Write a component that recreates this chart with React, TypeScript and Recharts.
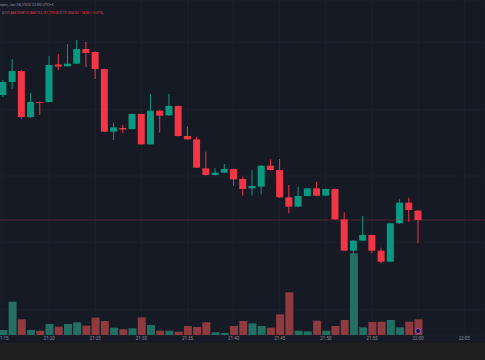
import React from 'react';
import {
  ComposedChart,
  Bar,
  XAxis,
  YAxis,
  CartesianGrid,
  ReferenceLine,
  ReferenceDot,
  Cell,
} from 'recharts';

// minutes after 21:15 (1-minute candles)
const minutes = [
  0, 1, 2, 3, 4, 5, 6, 7, 8, 9, 10, 11, 12, 13, 14, 15, 16, 17, 18, 19, 20, 21, 22,
  23, 24, 25, 26, 27, 28, 29, 30, 31, 32, 33, 34, 35, 36, 37, 38, 39, 40, 41, 42, 43,
  44, 45,
];
const opens = [
  102021.5, 102041, 102057.5, 101988.5, 102011, 102011, 102067.25, 102064.5, 102068.5,
  102090.5, 102086, 102060.5, 101966.5, 101972, 101970.5, 101993, 101947.5, 101998,
  101991, 102005, 101960, 101955, 101911.5, 101901.5, 101905, 101910.5, 101895.5,
  101881.5, 101884, 101915.5, 101909, 101868, 101854, 101870, 101881.5, 101870.5,
  101880.5, 101835, 101788, 101803, 101811.5, 101788, 101771.5, 101829, 101860, 101848,
];
const highs = [
  102044, 102075.5, 102059, 102024.5, 102011.75, 102080, 102083, 102098, 102104, 102101,
  102086.75, 102061.25, 101980, 101976.5, 101993.75, 101993.75, 102023, 101998.75,
  102023, 102005.75, 101974, 101959, 101936.5, 101911.5, 101918, 101911.25, 101899,
  101909, 101916.25, 101925, 101925.5, 101886.5, 101884, 101882.25, 101891.5, 101881.25,
  101881.25, 101845.5, 101803.75, 101840, 101812.25, 101792.5, 101829.75, 101865,
  101867.5, 101848.75,
];
const lows = [
  102018.5, 102030.5, 101985.5, 101987, 101991.5, 102010.25, 102059, 102064.25, 102068,
  102063.5, 102045.5, 101966, 101954, 101964.5, 101969.75, 101947, 101947, 101965,
  101990.25, 101959.25, 101954.25, 101912, 101900.75, 101901, 101904.5, 101885, 101870.5,
  101870.5, 101872.5, 101908.25, 101867.25, 101844, 101853.25, 101869.25, 101869.75,
  101869.75, 101834.25, 101787.25, 101781.5, 101802.25, 101784, 101769, 101770.75,
  101828.25, 101831.5, 101799,
];
const closes = [
  102041, 102057.5, 101988.5, 102011, 102010.25, 102066.5, 102064.25, 102068.5, 102090.5,
  102084.5, 102060.5, 101966.5, 101973, 101969.75, 101993, 101947.5, 101998, 101990.5,
  102005, 101960, 101955, 101912.5, 101901.5, 101905, 101910.5, 101895, 101880.5, 101885,
  101915.5, 101909, 101868, 101854, 101870, 101881.5, 101870.5, 101880.5, 101835, 101788,
  101803, 101811.5, 101788, 101771.5, 101829, 101860, 101849, 101834,
];
const volumes = [
  5, 33.3, 15.7, 5, 4.3, 11, 8.3, 11, 12.7, 9.3, 17.3, 14, 7.3, 5.7, 6.7, 17.7, 10, 4.3,
  4.3, 3.3, 9, 8, 12.7, 2.7, 2, 9, 14, 11.7, 9, 7.3, 20.7, 42.7, 4.3, 3.7, 14.3, 4.3, 9,
  15, 81.7, 7.7, 13, 13.3, 15, 7.7, 13.3, 15.7,
];

const tickMinutes = [0, 5, 10, 15, 20, 25, 30, 35, 40, 45, 50];
const tickLabels = [
  '21:15', '21:20', '21:25', '21:30', '21:35', '21:40', '21:45', '21:50', '21:55',
  '22:00', '22:05',
];
const priceGridTicks = [101700, 101800, 101900, 102000, 102100];
const headerTitle = 'com, Jan 28, 2025 22:00 UTC+3';
const headerValues = [
  ['O', '101,848.00'],
  ['H', '101,848.75'],
  ['L', '101,799.00'],
  ['C', '101,834.00'],
];
const headerChange = '−14.00 (−0.01%)';

const UP = '#089981';
const DOWN = '#f23645';
const VOL_UP = '#226f64';
const VOL_DOWN = '#8e3a3e';
const BG = '#161a25';

const data = minutes.map((t, i) => ({
  t,
  open: opens[i],
  high: highs[i],
  low: lows[i],
  close: closes[i],
  range: [lows[i], highs[i]],
  volume: volumes[i],
}));

const lastClose = closes[closes.length - 1];

const Candle = (props: any) => {
  const { x, y, width, height, payload } = props;
  if (x == null || y == null || !payload) return null;
  const { open, close, high, low } = payload;
  const top = Math.min(y, y + height);
  const h = Math.abs(height);
  const ratio = high - low === 0 ? 0 : h / (high - low);
  const yOpen = top + (high - open) * ratio;
  const yClose = top + (high - close) * ratio;
  const color = close >= open ? UP : DOWN;
  const bodyTop = Math.min(yOpen, yClose);
  const bodyH = Math.max(Math.abs(yOpen - yClose), 1);
  const cx = x + width / 2;
  return (
    <g>
      <line x1={cx} x2={cx} y1={top} y2={top + h} stroke={color} strokeWidth={1} />
      <rect x={x} y={bodyTop} width={width} height={bodyH} fill={color} />
    </g>
  );
};

const TimeTick = (props: any) => {
  const { x, y, payload } = props;
  const label = tickLabels[tickMinutes.indexOf(payload.value)] ?? '';
  return (
    <text
      x={x}
      y={y}
      dy={4.6}
      textAnchor="middle"
      fill="#8b8e98"
      fontSize={4.5}
      fontFamily="Roboto, sans-serif"
    >
      {label}
    </text>
  );
};

export default function App() {
  return (
    <div
      style={{
        position: 'absolute',
        left: 0,
        top: 0,
        width: 485,
        height: 360,
        background: '#1f1f1f',
        overflow: 'hidden',
      }}
    >
      <div style={{ position: 'absolute', left: 0, top: 0, width: 485, height: 343, background: BG }} />
      <div style={{ position: 'absolute', left: 0, top: 0 }}>
        <ComposedChart
          width={485}
          height={360}
          data={data}
          margin={{ top: 0, right: 0, bottom: 0, left: 0 }}
        >
          <CartesianGrid
            xAxisId="t"
            yAxisId="p"
            stroke="#1d212d"
            strokeWidth={1}
          />
          <XAxis
            xAxisId="t"
            dataKey="t"
            type="number"
            domain={[-0.325, 52.25]}
            allowDataOverflow
            ticks={tickMinutes}
            interval={0}
            tick={<TimeTick />}
            tickLine={false}
            tickSize={0}
            axisLine={false}
            tickMargin={0}
            height={25}
          />
          <XAxis
            xAxisId="v"
            dataKey="t"
            type="number"
            domain={[-0.325, 52.25]}
            allowDataOverflow
            hide
          />
          <YAxis
            yAxisId="p"
            type="number"
            domain={[101661.5, 102164]}
            allowDataOverflow
            ticks={priceGridTicks}
            hide
          />
          <YAxis yAxisId="v" type="number" domain={[0, 335]} allowDataOverflow hide />
          <Bar
            xAxisId="v"
            yAxisId="v"
            dataKey="volume"
            barSize={8}
            isAnimationActive={false}
          >
            {data.map((d, i) => (
              <Cell key={i} fill={d.close >= d.open ? VOL_UP : VOL_DOWN} />
            ))}
          </Bar>
          <ReferenceLine
            xAxisId="t"
            yAxisId="p"
            y={lastClose}
            stroke={DOWN}
            strokeOpacity={0.3}
            strokeWidth={1}
          />
          <Bar
            xAxisId="t"
            yAxisId="p"
            dataKey="range"
            barSize={7}
            shape={<Candle />}
            isAnimationActive={false}
          />
          <ReferenceDot
            xAxisId="v"
            yAxisId="v"
            x={45}
            y={4}
            r={2.6}
            fill="#1c1230"
            stroke="#9b4fd0"
            strokeWidth={1}
          />
        </ComposedChart>
      </div>
      <svg
        width={485}
        height={20}
        style={{ position: 'absolute', left: 0, top: 0, pointerEvents: 'none' }}
      >
        <text x={0} y={6} fontSize={3.8} fill="#9598a1" fontFamily="Roboto, sans-serif">
          {headerTitle}
        </text>
        <text x={2} y={14} fontSize={3.3} fontFamily="Roboto, sans-serif">
          {headerValues.map(([k, v], i) => (
            <tspan key={i}>
              <tspan fill="#9598a1">{k}</tspan>
              <tspan fill={DOWN}>{v + ' '}</tspan>
            </tspan>
          ))}
          <tspan fill={DOWN}>{' ' + headerChange}</tspan>
        </text>
      </svg>
    </div>
  );
}
